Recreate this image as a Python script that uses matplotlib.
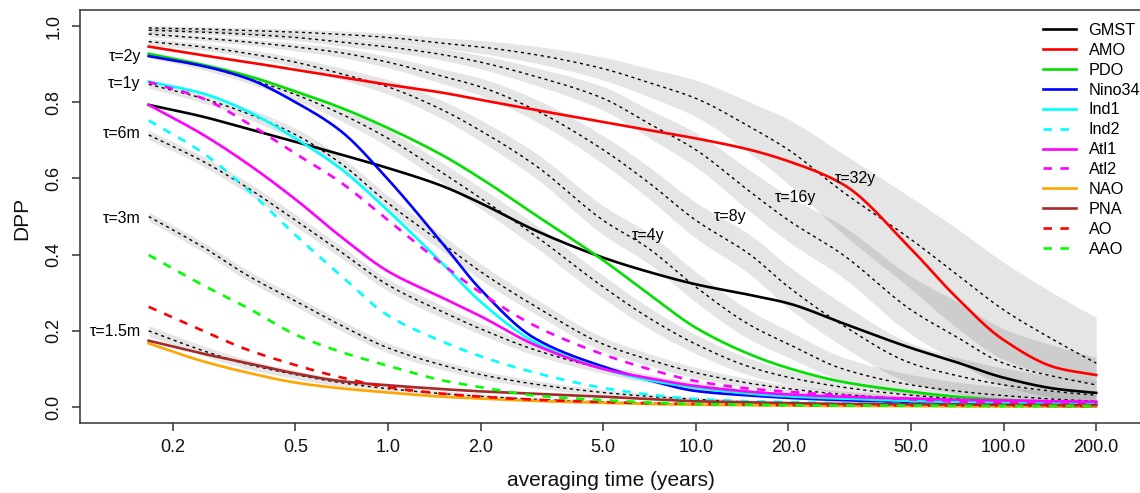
import numpy as np
import matplotlib
matplotlib.use("Agg")
import matplotlib.pyplot as plt
from matplotlib.lines import Line2D

plt.rcParams['font.family'] = ['Liberation Sans', 'DejaVu Sans']

# averaging times (years)
T = [0.1667, 0.25, 0.35, 0.5, 0.7, 1, 1.5, 2, 3, 5, 7, 10, 15, 20, 30, 50, 70, 100, 150, 200]

# observed DPP curves
gmst   = [0.793, 0.762, 0.730, 0.696, 0.663, 0.627, 0.580, 0.535, 0.464, 0.392, 0.355, 0.322, 0.294, 0.272, 0.220, 0.155, 0.118, 0.077, 0.047, 0.037]
amo    = [0.946, 0.923, 0.905, 0.885, 0.866, 0.846, 0.825, 0.806, 0.780, 0.748, 0.727, 0.705, 0.675, 0.645, 0.585, 0.415, 0.289, 0.176, 0.102, 0.084]
pdo    = [0.927, 0.898, 0.869, 0.828, 0.786, 0.732, 0.661, 0.600, 0.505, 0.385, 0.298, 0.208, 0.138, 0.102, 0.066, 0.040, 0.027, 0.018, 0.013, 0.011]
nino34 = [0.921, 0.895, 0.862, 0.800, 0.725, 0.597, 0.430, 0.308, 0.180, 0.106, 0.071, 0.042, 0.030, 0.024, 0.018, 0.013, 0.011, 0.009, 0.008, 0.008]
ind1   = [0.854, 0.823, 0.776, 0.705, 0.626, 0.515, 0.377, 0.276, 0.170, 0.100, 0.071, 0.051, 0.035, 0.028, 0.022, 0.016, 0.013, 0.011, 0.009, 0.008]
ind2   = [0.752, 0.667, 0.570, 0.451, 0.346, 0.240, 0.172, 0.133, 0.090, 0.050, 0.033, 0.021, 0.015, 0.013, 0.010, 0.008, 0.007, 0.007, 0.006, 0.006]
atl1   = [0.793, 0.715, 0.638, 0.545, 0.448, 0.356, 0.287, 0.238, 0.163, 0.100, 0.076, 0.055, 0.040, 0.033, 0.027, 0.022, 0.019, 0.017, 0.015, 0.014]
atl2   = [0.853, 0.810, 0.745, 0.665, 0.590, 0.490, 0.375, 0.300, 0.213, 0.138, 0.100, 0.068, 0.048, 0.040, 0.030, 0.020, 0.014, 0.011, 0.008, 0.007]
nao    = [0.167, 0.120, 0.090, 0.064, 0.049, 0.038, 0.027, 0.022, 0.016, 0.011, 0.008, 0.006, 0.005, 0.004, 0.003, 0.003, 0.002, 0.002, 0.002, 0.002]
pna    = [0.174, 0.140, 0.115, 0.088, 0.068, 0.057, 0.047, 0.041, 0.035, 0.027, 0.021, 0.015, 0.012, 0.010, 0.008, 0.007, 0.006, 0.006, 0.005, 0.005]
ao     = [0.263, 0.200, 0.150, 0.110, 0.078, 0.052, 0.035, 0.027, 0.019, 0.013, 0.010, 0.008, 0.006, 0.005, 0.005, 0.004, 0.004, 0.004, 0.003, 0.003]
aao    = [0.399, 0.320, 0.260, 0.190, 0.145, 0.108, 0.070, 0.052, 0.030, 0.018, 0.012, 0.008, 0.006, 0.005, 0.004, 0.004, 0.003, 0.003, 0.003, 0.003]

series_names  = ['GMST', 'AMO', 'PDO', 'Nino34', 'Ind1', 'Ind2', 'Atl1', 'Atl2', 'NAO', 'PNA', 'AO', 'AAO']
series_values = [gmst, amo, pdo, nino34, ind1, ind2, atl1, atl2, nao, pna, ao, aao]
series_colors = ['#000000', '#FF0000', '#00E000', '#0000FF', '#00FFFF', '#00FFFF',
                 '#FF00FF', '#FF00FF', '#FFA500', '#A52A2A', '#FF0000', '#00FF00']
series_dashed = [False, False, False, False, False, True, False, True, False, False, True, True]

# AR(1) reference curves (centre)
ar_1p5m = [0.200, 0.148, 0.112, 0.085, 0.064, 0.048, 0.035, 0.028, 0.020, 0.013, 0.010, 0.007, 0.005, 0.004, 0.003, 0.002, 0.0015, 0.001, 0.001, 0.001]
ar_3m   = [0.500, 0.420, 0.345, 0.278, 0.215, 0.155, 0.110, 0.085, 0.060, 0.038, 0.028, 0.020, 0.013, 0.010, 0.007, 0.004, 0.003, 0.002, 0.0015, 0.001]
ar_6m   = [0.714, 0.645, 0.575, 0.490, 0.408, 0.320, 0.250, 0.205, 0.150, 0.100, 0.075, 0.055, 0.038, 0.028, 0.019, 0.012, 0.009, 0.006, 0.004, 0.003]
ar_1y   = [0.847, 0.810, 0.770, 0.715, 0.640, 0.535, 0.430, 0.355, 0.265, 0.165, 0.125, 0.090, 0.062, 0.048, 0.033, 0.021, 0.015, 0.011, 0.007, 0.005]
ar_2y   = [0.925, 0.895, 0.862, 0.820, 0.770, 0.705, 0.615, 0.548, 0.450, 0.315, 0.235, 0.165, 0.105, 0.078, 0.052, 0.031, 0.022, 0.015, 0.010, 0.0075]
ar_4y   = [0.959, 0.945, 0.928, 0.905, 0.875, 0.840, 0.780, 0.725, 0.635, 0.490, 0.417, 0.315, 0.215, 0.165, 0.100, 0.058, 0.042, 0.030, 0.020, 0.015]
ar_8y   = [0.979, 0.968, 0.958, 0.945, 0.930, 0.905, 0.868, 0.840, 0.780, 0.675, 0.590, 0.490, 0.400, 0.315, 0.215, 0.115, 0.083, 0.058, 0.040, 0.031]
ar_16y  = [0.989, 0.984, 0.978, 0.970, 0.958, 0.945, 0.925, 0.905, 0.868, 0.810, 0.745, 0.675, 0.565, 0.490, 0.400, 0.255, 0.185, 0.115, 0.078, 0.058]
ar_32y  = [0.995, 0.992, 0.988, 0.984, 0.978, 0.970, 0.955, 0.945, 0.925, 0.888, 0.852, 0.810, 0.735, 0.675, 0.565, 0.440, 0.350, 0.255, 0.170, 0.115]

# spread above the centre
up_1p5m = [0.014, 0.013, 0.012, 0.011, 0.010, 0.009, 0.008, 0.007, 0.006, 0.005, 0.004, 0.004, 0.003, 0.003, 0.003, 0.003, 0.003, 0.003, 0.003, 0.003]
up_3m   = [0.012, 0.013, 0.014, 0.014, 0.014, 0.013, 0.012, 0.011, 0.010, 0.008, 0.007, 0.006, 0.005, 0.004, 0.004, 0.004, 0.004, 0.004, 0.004, 0.004]
up_6m   = [0.012, 0.013, 0.015, 0.016, 0.016, 0.016, 0.016, 0.015, 0.014, 0.012, 0.011, 0.010, 0.008, 0.007, 0.006, 0.005, 0.005, 0.005, 0.005, 0.005]
up_1y   = [0.010, 0.012, 0.014, 0.016, 0.018, 0.020, 0.021, 0.021, 0.020, 0.018, 0.016, 0.014, 0.012, 0.010, 0.009, 0.008, 0.007, 0.007, 0.006, 0.006]
up_2y   = [0.008, 0.010, 0.012, 0.015, 0.018, 0.022, 0.026, 0.028, 0.030, 0.030, 0.028, 0.025, 0.022, 0.019, 0.016, 0.013, 0.011, 0.010, 0.009, 0.009]
up_4y   = [0.008, 0.009, 0.010, 0.012, 0.015, 0.019, 0.024, 0.028, 0.033, 0.038, 0.040, 0.040, 0.038, 0.035, 0.031, 0.027, 0.024, 0.022, 0.020, 0.018]
up_8y   = [0.007, 0.007, 0.008, 0.010, 0.012, 0.015, 0.019, 0.023, 0.029, 0.037, 0.042, 0.047, 0.052, 0.055, 0.056, 0.052, 0.048, 0.044, 0.040, 0.036]
up_16y  = [0.006, 0.006, 0.007, 0.008, 0.010, 0.012, 0.015, 0.018, 0.023, 0.031, 0.037, 0.045, 0.056, 0.064, 0.075, 0.088, 0.093, 0.090, 0.080, 0.072]
up_32y  = [0.006, 0.006, 0.007, 0.008, 0.009, 0.011, 0.014, 0.017, 0.022, 0.030, 0.037, 0.048, 0.065, 0.080, 0.100, 0.110, 0.120, 0.125, 0.122, 0.120]
# spread below the centre (where it differs from the spread above)
dn_16y  = [0.006, 0.006, 0.007, 0.008, 0.010, 0.012, 0.015, 0.018, 0.023, 0.031, 0.037, 0.045, 0.052, 0.056, 0.060, 0.064, 0.064, 0.060, 0.055, 0.050]
dn_32y  = [0.006, 0.006, 0.007, 0.008, 0.009, 0.011, 0.014, 0.017, 0.022, 0.030, 0.037, 0.048, 0.070, 0.090, 0.110, 0.130, 0.140, 0.130, 0.090, 0.052]

ar_centres = [ar_1p5m, ar_3m, ar_6m, ar_1y, ar_2y, ar_4y, ar_8y, ar_16y, ar_32y]
ar_upper   = [up_1p5m, up_3m, up_6m, up_1y, up_2y, up_4y, up_8y, up_16y, up_32y]
ar_lower   = [up_1p5m, up_3m, up_6m, up_1y, up_2y, up_4y, up_8y, dn_16y, dn_32y]

# curve labels: text, x, y, horizontal alignment
tau_labels = ['τ=1.5m', 'τ=3m', 'τ=6m', 'τ=1y', 'τ=2y', 'τ=4y', 'τ=8y', 'τ=16y', 'τ=32y']
tau_x      = [0.157, 0.157, 0.157, 0.157, 0.157, 7.0, 12.9, 21.0, 32.9]
tau_y      = [0.197, 0.496, 0.719, 0.850, 0.919, 0.451, 0.499, 0.551, 0.601]
tau_ha     = ['right'] * 5 + ['center'] * 4

xticks = [0.2, 0.5, 1, 2, 5, 10, 20, 50, 100, 200]
xtick_labels = ['0.2', '0.5', '1.0', '2.0', '5.0', '10.0', '20.0', '50.0', '100.0', '200.0']
yticks = [0.0, 0.2, 0.4, 0.6, 0.8, 1.0]
ytick_labels = ['0.0', '0.2', '0.4', '0.6', '0.8', '1.0']


def smooth(x, y, n=400):
    """Monotone cubic (PCHIP) curve through the given points, in log10(x)."""
    lx = np.log10(np.asarray(x, float))
    y = np.asarray(y, float)
    h = np.diff(lx)
    d = np.diff(y) / h
    m = np.zeros_like(y)
    m[0], m[-1] = d[0], d[-1]
    for k in range(1, len(y) - 1):
        if d[k - 1] * d[k] > 0:
            w1 = 2 * h[k] + h[k - 1]
            w2 = h[k] + 2 * h[k - 1]
            m[k] = (w1 + w2) / (w1 / d[k - 1] + w2 / d[k])
    lxn = np.linspace(lx[0], lx[-1], n)
    idx = np.clip(np.searchsorted(lx, lxn) - 1, 0, len(h) - 1)
    t = (lxn - lx[idx]) / h[idx]
    h00 = 2 * t**3 - 3 * t**2 + 1
    h10 = t**3 - 2 * t**2 + t
    h01 = -2 * t**3 + 3 * t**2
    h11 = t**3 - t**2
    yn = h00 * y[idx] + h10 * h[idx] * m[idx] + h01 * y[idx + 1] + h11 * h[idx] * m[idx + 1]
    return 10**lxn, yn


W, H = 1140, 493
fig = plt.figure(figsize=(W / 100, H / 100), dpi=100)
ax = fig.add_axes([80.4 / W, 70 / H, 1070 / W, 413 / H])
ax.set_xscale('log')
ax.set_xlim(0.1, 300)
ax.set_ylim(-0.042, 1.042)

for c, up, dn in zip(ar_centres, ar_upper, ar_lower):
    c = np.array(c)
    hi = c + np.array(up)
    lo = np.clip(c - np.array(dn), 0, None)
    xs, ys_hi = smooth(T, hi)
    _, ys_lo = smooth(T, lo)
    ax.fill_between(xs, ys_lo, ys_hi, color='black', alpha=0.1, lw=0, zorder=1)
for c in ar_centres:
    xs, ys = smooth(T, c)
    ax.plot(xs, ys, color='black', lw=1.0, ls=(0, (2.2, 2.6)), zorder=2)

handles = []
for name, vals, col, dashed in zip(series_names, series_values, series_colors, series_dashed):
    ls = (0, (3.2, 3.2)) if dashed else '-'
    xs, ys = smooth(T, vals)
    ax.plot(xs, ys, color=col, lw=1.9, ls=ls, zorder=3)
    handles.append(Line2D([], [], color=col, lw=1.9, ls=ls))

for txt, x, y, ha in zip(tau_labels, tau_x, tau_y, tau_ha):
    ax.text(x, y, txt, ha=ha, va='center', fontsize=11.5, zorder=4)

ax.set_xticks(xticks)
ax.set_xticklabels(xtick_labels)
ax.xaxis.set_minor_locator(matplotlib.ticker.NullLocator())
ax.set_yticks(yticks)
ax.set_yticklabels(ytick_labels, rotation=90, va='center')

spine_col = '#333333'
for s in ['left', 'bottom', 'top']:
    ax.spines[s].set_color(spine_col)
    ax.spines[s].set_linewidth(1.1)
ax.spines['right'].set_visible(False)
ax.tick_params(axis='both', direction='out', length=5.8, width=1.1, color=spine_col,
               labelsize=13, labelcolor='#111111')
ax.tick_params(axis='x', pad=6)
ax.tick_params(axis='y', pad=7)

fig.text(611 / W, 1 - 481 / H, 'averaging time (years)', ha='center', va='center', fontsize=15, color='#111111')
fig.text(22 / W, 1 - 218 / H, 'DPP', ha='center', va='center', rotation=90, fontsize=15, color='#111111')

ax.legend(handles, series_names, loc='upper left', bbox_to_anchor=(1043 / W, 1 - 23 / H),
          bbox_transform=fig.transFigure, frameon=False, fontsize=11.7,
          handlelength=2.0, handletextpad=0.8, labelspacing=0.30,
          borderpad=0, borderaxespad=0)

fig.savefig('out.png', dpi=100)
